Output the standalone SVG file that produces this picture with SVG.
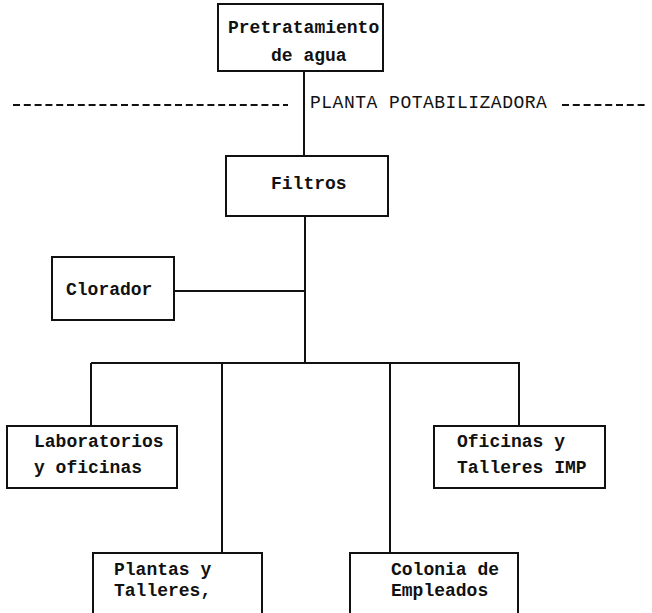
<svg xmlns="http://www.w3.org/2000/svg" width="652" height="613" viewBox="0 0 652 613">
  <style>
    .box { fill: #ffffff; stroke: #111; stroke-width: 2; }
    .wire { fill: none; stroke: #111; stroke-width: 2; }
    .lbl { font-family: "Liberation Mono", "Courier New", monospace; font-size: 18px; font-weight: bold; fill: #111; }
    .sep { font-family: "Liberation Mono", "Courier New", monospace; font-size: 18px; letter-spacing: 0.5px; fill: #111; }
    .dash { fill: none; stroke: #111; stroke-width: 2; stroke-dasharray: 7 3.8; }
  </style>
  <rect width="652" height="613" fill="#ffffff"/>

  <!-- plant boundary -->
  <g id="boundary">
    <line class="dash" x1="13" y1="105" x2="288" y2="105"/>
    <text class="sep" x="310" y="108">PLANTA POTABILIZADORA</text>
    <line class="dash" x1="562" y1="105" x2="646" y2="105"/>
  </g>

  <!-- connectors -->
  <g id="connectors">
    <line class="wire" x1="304" y1="71" x2="304" y2="156"/>
    <line class="wire" x1="305" y1="216" x2="305" y2="363"/>
    <line class="wire" x1="174" y1="291" x2="305" y2="291"/>
    <line class="wire" x1="91" y1="363" x2="520" y2="363"/>
    <line class="wire" x1="91" y1="363" x2="91" y2="426"/>
    <line class="wire" x1="222" y1="363" x2="222" y2="553"/>
    <line class="wire" x1="390" y1="363" x2="390" y2="553"/>
    <line class="wire" x1="519" y1="363" x2="519" y2="426"/>
  </g>

  <g id="pretratamiento">
    <rect class="box" x="218" y="4" width="165" height="67"/>
    <text class="lbl" x="228" y="33">Pretratamiento</text>
    <text class="lbl" x="271" y="61">de agua</text>
  </g>

  <g id="filtros">
    <rect class="box" x="226" y="156" width="162" height="60"/>
    <text class="lbl" x="271" y="189">Filtros</text>
  </g>

  <g id="clorador">
    <rect class="box" x="52" y="257" width="122" height="63"/>
    <text class="lbl" x="66" y="295">Clorador</text>
  </g>

  <g id="laboratorios">
    <rect class="box" x="7" y="426" width="170" height="62"/>
    <text class="lbl" x="34" y="447">Laboratorios</text>
    <text class="lbl" x="34" y="473">y oficinas</text>
  </g>

  <g id="oficinas">
    <rect class="box" x="434" y="426" width="171" height="62"/>
    <text class="lbl" x="457" y="447">Oficinas y</text>
    <text class="lbl" x="457" y="473">Talleres IMP</text>
  </g>

  <g id="plantas">
    <rect class="box" x="93" y="553" width="169" height="70"/>
    <text class="lbl" x="114" y="575">Plantas y</text>
    <text class="lbl" x="114" y="596">Talleres,</text>
  </g>

  <g id="colonia">
    <rect class="box" x="350" y="553" width="168" height="70"/>
    <text class="lbl" x="391" y="575">Colonia de</text>
    <text class="lbl" x="391" y="596">Empleados</text>
  </g>
</svg>
